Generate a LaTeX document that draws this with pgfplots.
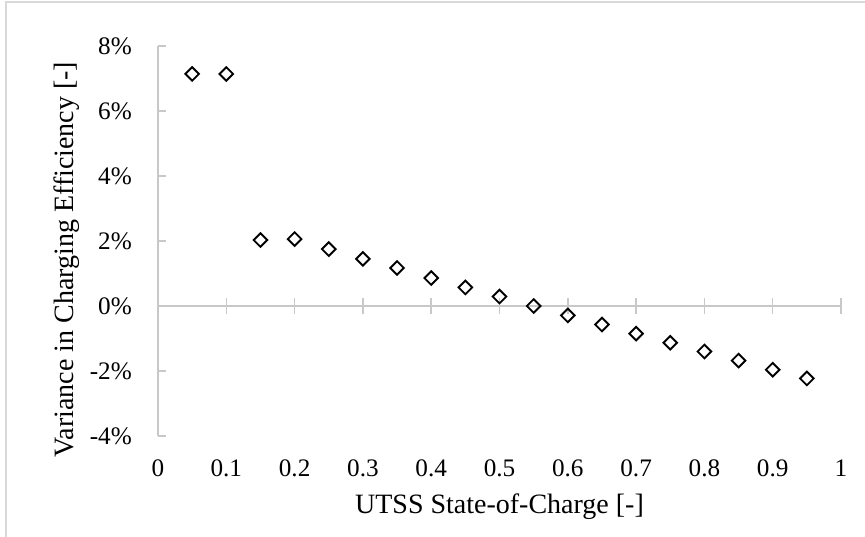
\documentclass[border=0pt]{standalone}
\usepackage{pgfplots}
\pgfplotsset{compat=1.18}
\usepackage{fontspec}
\setmainfont{Liberation Serif}
\definecolor{axgray}{RGB}{200,200,200}
\definecolor{framegray}{RGB}{217,217,217}
\newcommand{\ticksize}{\fontsize{25.2}{30}\selectfont}
\newcommand{\titlesize}{\fontsize{28}{33}\selectfont}
\begin{document}
\begin{tikzpicture}
\path[use as bounding box] (0pt,0pt) rectangle (865pt,537pt);
\draw[framegray, line width=1.2pt] (6pt,0pt) -- (6pt,535pt) -- (865pt,535pt);
\begin{axis}[
  at={(158pt,101pt)}, anchor=south west,
  scale only axis, width=683pt, height=390pt,
  xmin=0, xmax=1, ymin=-4, ymax=8,
  clip=false,
  axis line style={draw=none},
  major tick length=0pt,
  tick style={draw=none},
  xtick={0,0.1,0.2,0.3,0.4,0.5,0.6,0.7,0.8,0.9,1},
  xticklabels={0,0.1,0.2,0.3,0.4,0.5,0.6,0.7,0.8,0.9,1},
  ytick={-4,-2,0,2,4,6,8},
  yticklabels={-4\%,-2\%,0\%,2\%,4\%,6\%,8\%},
  xticklabel style={font=\ticksize, anchor=base, inner sep=0pt, yshift=-41pt},
  yticklabel style={font=\ticksize, anchor=east, inner sep=0pt, xshift=-26pt},
]
\draw[axgray, line width=1.5pt] (axis cs:0,-4) -- (axis cs:0,8);
\draw[axgray, line width=1.5pt] (axis cs:0,0) -- (axis cs:1,0);
\pgfplotsinvokeforeach{0.1,0.2,0.3,0.4,0.5,0.6,0.7,0.8,0.9,1}{
  \draw[axgray, line width=1.5pt] ([yshift=-8pt]axis cs:#1,0) -- ([yshift=8pt]axis cs:#1,0);
}
\pgfplotsinvokeforeach{-4,-2,0,2,4,6,8}{
  \draw[axgray, line width=1.5pt] (axis cs:0,#1) -- ([xshift=8pt]axis cs:0,#1);
}
\addplot[only marks, mark=square, mark size=4.8pt,
  mark options={rotate=45, fill=white, draw=black, line width=1.9pt}]
  coordinates {
  (0.05,7.14) (0.10,7.14) (0.15,2.03) (0.20,2.06) (0.25,1.75)
  (0.30,1.45) (0.35,1.17) (0.40,0.86) (0.45,0.57) (0.50,0.29)
  (0.55,0.00) (0.60,-0.29) (0.65,-0.57) (0.70,-0.85) (0.75,-1.13)
  (0.80,-1.40) (0.85,-1.68) (0.90,-1.96) (0.95,-2.23)
  };
\end{axis}
\node[font=\titlesize, anchor=base, inner sep=0pt] at (499.5pt,23pt) {UTSS State-of-Charge [-]};
\node[font=\titlesize, anchor=base, inner sep=0pt, rotate=90] at (73pt,277.5pt) {Variance in Charging Efficiency [-]};
\end{tikzpicture}
\end{document}
